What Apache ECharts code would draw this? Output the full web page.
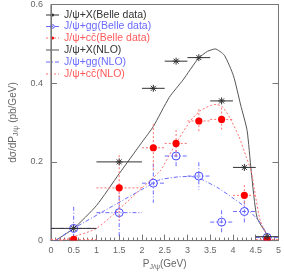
<!DOCTYPE html>
<html><head><meta charset="utf-8">
<script src="https://cdn.jsdelivr.net/npm/echarts@6/dist/echarts.min.js"></script>
<style>html,body{margin:0;padding:0;background:#fff}#c{width:284px;height:276px}</style>
</head><body><div id="c"></div>
<script>
// Belle data bins
const binX    = [0.5, 1.5, 2.25, 2.75, 3.25, 3.75, 4.25, 4.75];
const binHalf = [0.5, 0.5, 0.25, 0.25, 0.25, 0.25, 0.25, 0.25];
const totalY  = [0.031, 0.200, 0.387, 0.456, 0.465, 0.355, 0.186, 0.010];
const ggY     = [0.031, 0.071, 0.146, 0.215, 0.164, 0.047, 0.074, 0.008];
const ggErr   = [0.055, 0.065, 0.050, 0.030, 0.035, 0.030, 0.028, 0.006];
const ccY     = [0.003, 0.134, 0.236, 0.247, 0.304, 0.308, 0.115, 0.003];
const ccErr   = [0.000, 0.083, 0.060, 0.034, 0.030, 0.030, 0.026, 0.003];
// NLO curves
const nloTotX = [0.1, 0.5, 1.0, 1.5, 2.0, 2.25, 2.6, 2.9, 3.24, 3.44, 3.61, 3.81, 4.01, 4.17, 4.31, 4.4, 4.53, 4.77];
const nloTotY = [0, 0.031, 0.089, 0.17, 0.25, 0.29, 0.364, 0.408, 0.463, 0.481, 0.487, 0.471, 0.419, 0.344, 0.28, 0.177, 0.058, 0.012];
const nloGgX  = [0.1, 0.5, 2.0, 2.25, 2.4, 2.8, 3.07, 3.3, 3.67, 4.0, 4.27, 4.57, 4.77];
const nloGgY  = [0, 0.031, 0.13, 0.146, 0.155, 0.162, 0.163, 0.156, 0.134, 0.108, 0.085, 0.05, 0.012];
const nloCcX  = [0.2, 1.0, 2.0, 2.4, 2.6, 2.8, 3.07, 3.27, 3.5, 3.63, 3.77, 3.93, 4.13, 4.3, 4.4, 4.47, 4.6, 4.77];
const nloCcY  = [0, 0.031, 0.134, 0.177, 0.217, 0.257, 0.305, 0.329, 0.343, 0.346, 0.34, 0.312, 0.265, 0.21, 0.177, 0.13, 0.05, 0.008];
// ticks
const xTicks = ['0','0.5','1','1.5','2','2.5','3','3.5','4','4.5','5'];
const yTicks = ['0','0.2','0.4','0.6'];
const legendNames = ['J/\u03c8+X(Belle data)','J/\u03c8+gg(Belle data)','J/\u03c8+cc\u0304(Belle data)','J/\u03c8+X(NLO)','J/\u03c8+gg(NLO)','J/\u03c8+cc\u0304(NLO)'];

const BLACK='#333333', BLUE='#4a4aff', RED='#ff2a2a', PINK='#ff7070', LBLUE='#6a6aff';
const DASHDOT=[4,2,1,2], DOT=[2,2];

function asterisk(c, col){
  const r=3.5, d=2.5;
  const st={stroke:col,lineWidth:1};
  return {type:'group',children:[
    {type:'line',shape:{x1:c[0]-r,y1:c[1],x2:c[0]+r,y2:c[1]},style:st},
    {type:'line',shape:{x1:c[0],y1:c[1]-r,x2:c[0],y2:c[1]+r},style:st},
    {type:'line',shape:{x1:c[0]-d,y1:c[1]-d,x2:c[0]+d,y2:c[1]+d},style:st},
    {type:'line',shape:{x1:c[0]-d,y1:c[1]+d,x2:c[0]+d,y2:c[1]-d},style:st}
  ]};
}
function openCircle(c){ return {type:'circle',shape:{cx:c[0],cy:c[1],r:4},style:{fill:'none',stroke:BLUE,lineWidth:1}}; }
function fullCircle(c){ return {type:'circle',shape:{cx:c[0],cy:c[1],r:3.6},style:{fill:'#ff0000'}}; }

function errSeries(name, ys, yerr, color, dash, marker, z){
  const data = binX.map((x,i)=>[x, ys[i], binHalf[i], yerr ? yerr[i] : 0]);
  return {
    type:'custom', name, data, z, clip:true,
    encode:{x:0,y:1},
    renderItem(params, api){
      const x=api.value(0), y=api.value(1), hx=api.value(2), hy=api.value(3);
      const c=api.coord([x,y]);
      const l=api.coord([x-hx,y]), r=api.coord([x+hx,y]);
      const st={stroke:color,lineWidth:1,lineDash:dash,fill:'none'};
      const ch=[{type:'line',shape:{x1:l[0],y1:l[1],x2:r[0],y2:r[1]},style:st}];
      if(hy>0){
        const t=api.coord([x,y+hy]), b=api.coord([x,Math.max(0,y-hy)]);
        ch.push({type:'line',shape:{x1:t[0],y1:t[1],x2:b[0],y2:b[1]},style:st});
      }
      ch.push(marker(c));
      return {type:'group',children:ch};
    }
  };
}
function nlo(name, xs, ys, color, dash){
  return {type:'line', name, data: xs.map((x,i)=>[x,ys[i]]), symbol:'none', smooth:0.2,
    lineStyle:{color, width:1, type:dash}, z:2, silent:true};
}

// legend drawn as graphic
const legendStyles = [
  {col:BLACK, tcol:'#333', dash:null, mk:'ast'},
  {col:LBLUE, tcol:'#6a6aff', dash:DASHDOT, mk:'open'},
  {col:PINK, tcol:'#ff5a5a', dash:DOT, mk:'full'},
  {col:'#555', tcol:'#333', dash:null, mk:null},
  {col:LBLUE, tcol:'#6a6aff', dash:DASHDOT, mk:null},
  {col:PINK, tcol:'#ff5a5a', dash:DOT, mk:null}
];
const legendRowY = [15, 26.5, 38, 50, 62, 74];
const graphic = [];
legendNames.forEach((n,i)=>{
  const s=legendStyles[i], y=legendRowY[i];
  graphic.push({type:'line',shape:{x1:46,y1:y,x2:59,y2:y},style:{stroke:s.col,lineWidth:1,lineDash:s.dash||null}});
  if(s.mk==='ast') graphic.push({type:'circle',shape:{cx:52.5,cy:y,r:1.6},style:{fill:BLACK}});
  if(s.mk==='open') graphic.push({type:'circle',shape:{cx:52.5,cy:y,r:1.8},style:{fill:'none',stroke:BLUE}});
  if(s.mk==='full') graphic.push({type:'circle',shape:{cx:52.5,cy:y,r:1.6},style:{fill:'#ff0000'}});
  graphic.push({type:'text',x:64,y:y,style:{text:n,fill:s.tcol,font:'10.5px "Liberation Sans", Arial, sans-serif',verticalAlign:'middle'}});
});

const axisLbl = {color:'#666', fontSize:9, fontFamily:'"Liberation Sans", Arial, sans-serif'};
const option = {
  animation:false,
  backgroundColor:'#fff',
  grid:{left:30, right:4, top:2.5, bottom:21.5, show:true, borderColor:'#777', borderWidth:1, backgroundColor:'transparent'},
  xAxis:{type:'value', min:0, max:5, interval:0.5,
    axisLine:{show:true,lineStyle:{color:'#777'}},
    axisTick:{show:true, inside:true, length:6, lineStyle:{color:'#777'}},
    minorTick:{show:true, splitNumber:5, length:3, lineStyle:{color:'#777'}},
    splitLine:{show:false},
    axisLabel:{...axisLbl, margin:5, formatter:(v)=>xTicks[Math.round(v/0.5)] ?? ''},
    name:'{p|P}{s|J/\u03c8}{p|(GeV)}', nameLocation:'middle', nameGap:13,
    nameTextStyle:{rich:{p:{fontSize:10,color:'#666',fontFamily:'"Liberation Sans", Arial, sans-serif'},
      s:{fontSize:7,color:'#666',padding:[6,0,0,0],fontFamily:'"Liberation Sans", Arial, sans-serif'}}}
  },
  yAxis:[{type:'value', min:0, max:0.6, interval:0.2,
    axisLine:{show:true,lineStyle:{color:'#777'}},
    axisTick:{show:true, inside:true, length:6, lineStyle:{color:'#777'}},
    splitLine:{show:false},
    axisLabel:{...axisLbl, margin:8, formatter:(v)=>yTicks[Math.round(v/0.2)] ?? ''},
    name:'{p|d\u03c3/dP}{s|J/\u03c8}{p| (pb/GeV)}', nameLocation:'middle', nameGap:19, nameRotate:90,
    nameTextStyle:{rich:{p:{fontSize:10,color:'#666',fontFamily:'"Liberation Sans", Arial, sans-serif'},
      s:{fontSize:7,color:'#666',padding:[6,0,0,0],fontFamily:'"Liberation Sans", Arial, sans-serif'}}}
  },{type:'value', min:0, max:0.6, interval:0.2, position:'right',
    axisLine:{show:true,lineStyle:{color:'#777'}},
    axisTick:{show:true, inside:true, length:6, lineStyle:{color:'#777'}},
    splitLine:{show:false}, axisLabel:{show:false}
  }],
  graphic,
  series:[
    nlo(legendNames[3], nloTotX, nloTotY, '#555', 'solid'),
    nlo(legendNames[4], nloGgX, nloGgY, LBLUE, DASHDOT),
    nlo(legendNames[5], nloCcX, nloCcY, PINK, DOT),
    errSeries(legendNames[1], ggY, ggErr, LBLUE, DASHDOT, openCircle, 4),
    errSeries(legendNames[2], ccY, ccErr, PINK, DOT, fullCircle, 5),
    errSeries(legendNames[0], totalY, null, BLACK, null, (c)=>asterisk(c,BLACK), 6)
  ]
};
const chart = echarts.init(document.getElementById('c'));
chart.setOption(option);
</script></body></html>
